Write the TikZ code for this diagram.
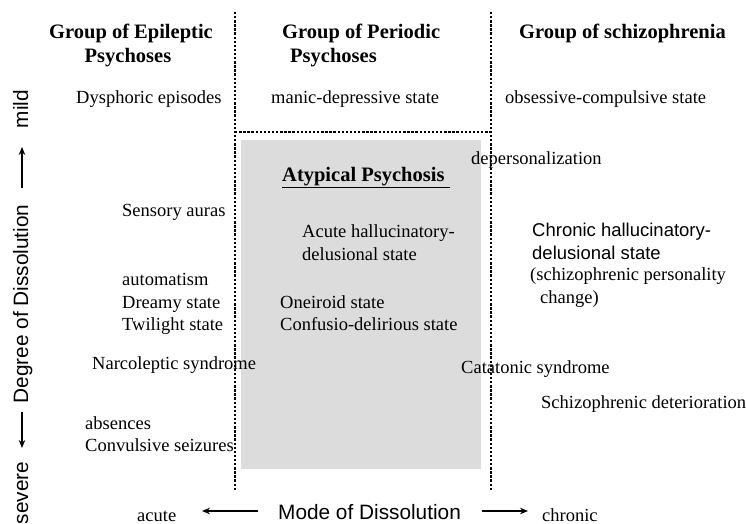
\documentclass[tikz,border=0pt]{standalone}
\usepackage{fontspec}
\setmainfont{Liberation Serif}
\setsansfont{Liberation Sans}
\usetikzlibrary{arrows.meta}

\tikzset{
  lbl/.style={inner sep=0pt, anchor=base west, font=\fontsize{18.5}{22}\selectfont},
  slbl/.style={inner sep=0pt, anchor=base west, font=\sffamily\fontsize{18.5}{22}\selectfont},
  head/.style={inner sep=0pt, anchor=base west, font=\bfseries\fontsize{20.5}{24}\selectfont},
  headc/.style={head, anchor=base},
  axis/.style={inner sep=0pt, font=\sffamily\fontsize{20.8}{24}\selectfont},
  divider/.style={line width=2.6pt, dash pattern=on 2.4pt off 1.7pt},
  axisarrow/.style={line width=1.3pt, -{Stealth[length=8pt,width=6.5pt]}},
}
\definecolor{atypgray}{HTML}{DCDCDC}

\begin{document}
\begin{tikzpicture}[x=1pt,y=-1pt]
  \useasboundingbox (0,0) rectangle (746,524);

  % shaded field of atypical psychosis
  \fill[atypgray] (241,140) rectangle (481,469);

  % column dividers and the upper border of the atypical field
  \coordinate (d1top) at (235,12);
  \coordinate (d1bot) at (235,490);
  \coordinate (d2top) at (491,12);
  \coordinate (d2bot) at (491,490);
  \coordinate (hl) at (235,132);
  \coordinate (hr) at (491,132);
  \draw[divider] (d1top) -- (d1bot);
  \draw[divider] (d2top) -- (d2bot);
  \draw[divider] (hl) -- (hr);

  % column headings
  \node[headc] (h1a) at (131,39) {Group of Epileptic};
  \node[headc] (h1b) at (128,63) {Psychoses};
  \node[head] (h2a) at (282,39) {Group of Periodic};
  \node[head] (h2b) at (290,63) {Psychoses};
  \node[head] (h3) at (519,39) {Group of schizophrenia};

  % top row
  \node[lbl] (dys) at (76,104) {Dysphoric episodes};
  \node[lbl] (man) at (271,104) {manic-depressive state};
  \node[lbl] (obs) at (505,104) {obsessive-compulsive state};

  % epileptic column
  \node[lbl] (sens) at (122,216) {Sensory auras};
  \node[lbl] (auto) at (122,285) {automatism};
  \node[lbl] (drm) at (122,308) {Dreamy state};
  \node[lbl] (twi) at (122,330) {Twilight state};
  \node[lbl] (narc) at (92,369) {Narcoleptic syndrome};
  \node[lbl] (abs) at (85,429) {absences};
  \node[lbl] (conv) at (85,451) {Convulsive seizures};

  % atypical field
  \node[head] (atyp) at (282,181) {\underline{Atypical Psychosis\ }};
  \node[lbl] (ahd1) at (302,237) {Acute hallucinatory-};
  \node[lbl] (ahd2) at (302,260) {delusional state};
  \node[lbl] (onei) at (280,308) {Oneiroid state};
  \node[lbl] (conf) at (280,330) {Confusio-delirious state};

  % schizophrenia column
  \node[lbl] (dep) at (471,164) {depersonalization};
  \node[slbl] (chd1) at (532,236) {Chronic hallucinatory-};
  \node[slbl] (chd2) at (532,259) {delusional state};
  \node[lbl] (pers1) at (530,280) {(schizophrenic personality};
  \node[lbl] (pers2) at (540,303) {change)};
  \node[lbl] (cata) at (461,373) {Catatonic syndrome};
  \node[lbl] (det) at (541,408) {Schizophrenic deterioration};

  % horizontal axis: mode of dissolution
  \node[lbl] (acute) at (137,521) {acute};
  \node[axis, anchor=base west] (mode) at (278,519) {Mode of Dissolution};
  \node[lbl] (chron) at (542,521) {chronic};
  \coordinate (la) at (258,511);
  \coordinate (lb) at (202,511);
  \coordinate (ra) at (482,511);
  \coordinate (rb) at (528,511);
  \draw[axisarrow] (la) -- (lb);
  \draw[axisarrow] (ra) -- (rb);

  % vertical axis: degree of dissolution
  \node[axis, rotate=90, anchor=base] (mild) at (28,109) {mild};
  \node[axis, rotate=90, anchor=base] (deg) at (28,304) {Degree of Dissolution};
  \node[axis, rotate=90, anchor=base] (sev) at (28,493) {severe};
  \coordinate (ua) at (22,188);
  \coordinate (ub) at (22,147);
  \coordinate (da) at (22,412);
  \coordinate (db) at (22,448);
  \draw[axisarrow] (ua) -- (ub);
  \draw[axisarrow] (da) -- (db);
\end{tikzpicture}
\end{document}
